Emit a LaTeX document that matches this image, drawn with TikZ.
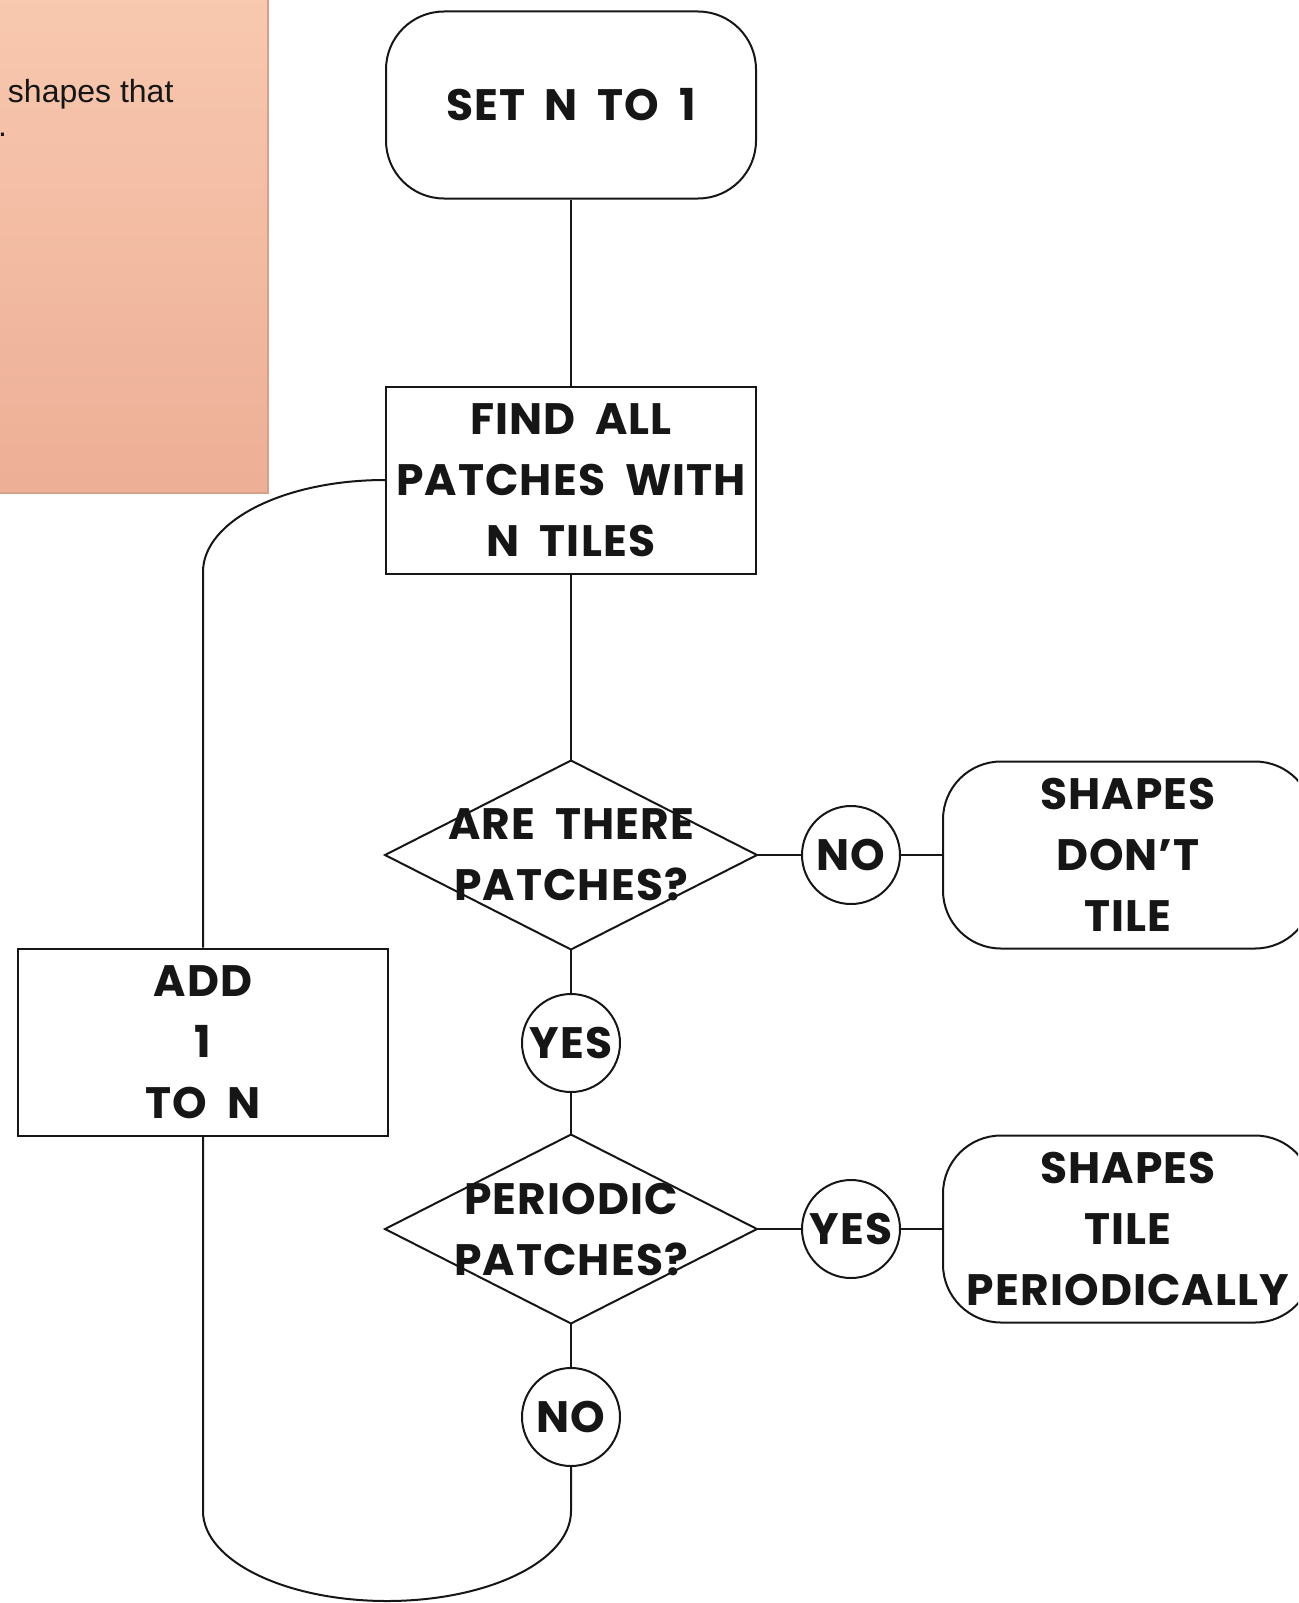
\documentclass[tikz,border=0pt]{standalone}
\usepackage{fontspec}
\setmainfont{Liberation Sans}
\newfontfamily\flowfont{Poppins}[LetterSpace=2.5,WordSpace=1.9]
\definecolor{noteTop}{RGB}{248,201,176}
\definecolor{noteBot}{RGB}{237,175,150}
\definecolor{noteLine}{RGB}{214,160,138}
\definecolor{ink}{RGB}{22,22,22}

\begin{document}
\begin{tikzpicture}[x=1pt,y=1pt,color=ink,line width=2pt,
  flow/.style={font=\flowfont\bfseries\fontsize{44}{61}\selectfont,align=center,inner sep=0pt,minimum width=370pt,minimum height=187pt},
  terminal/.style={flow,draw,rounded corners=58pt},
  process/.style={flow,draw},
  decision/.style={flow},
  answer/.style={circle,draw,font=\flowfont\bfseries\fontsize{44}{61}\selectfont,minimum size=98pt,inner sep=0pt},
  notetext/.style={font=\fontsize{32}{38}\selectfont,inner sep=0pt}]
\useasboundingbox (0,0) rectangle (1298,-1603);
\clip (0,0) rectangle (1298,-1603);
\shadedraw[top color=noteTop,bottom color=noteBot,draw=noteLine,line width=1.5pt] (-20,20) rectangle (268,-493);
\node[notetext,anchor=base west] (noteA) at (7,-102) {shapes that};
\node[notetext,anchor=base east] (noteB) at (8,-136) {.};
\node[terminal] (start) at (571,-105) {SET N TO 1};
\node[process] (find) at (571,-480) {FIND ALL\\PATCHES WITH\\N TILES};
\node[decision] (ask) at (571,-855) {ARE THERE\\PATCHES?};
\node[answer] (noA) at (851,-855) {NO};
\node[terminal] (dontTile) at (1128,-855) {SHAPES\\DON’T\\TILE};
\node[answer] (yesA) at (571,-1043) {YES};
\node[decision] (periodic) at (571,-1229) {PERIODIC\\PATCHES?};
\node[answer] (yesB) at (851,-1229) {YES};
\node[terminal] (tileP) at (1128,-1229) {SHAPES\\TILE\\PERIODICALLY};
\node[answer] (noB) at (571,-1417) {NO};
\node[process] (add) at (203,-1042) {ADD\\1\\TO N};
\foreach \d in {ask,periodic}
  \draw (\d.north) -- (\d.east) -- (\d.south) -- (\d.west) -- cycle;
\coordinate (loopT) at (203,-572);
\coordinate (loopL) at (203,-1511);
\coordinate (loopB) at (387,-1601);
\coordinate (loopR) at (571,-1511);
\draw (start) -- (find);
\draw (find) -- (ask);
\draw (ask) -- (noA) -- (dontTile);
\draw (ask) -- (yesA) -- (periodic);
\draw (periodic) -- (yesB) -- (tileP);
\draw (periodic) -- (noB);
\draw (noB) -- (loopR) .. controls +(0,-50) and +(101,0) .. (loopB) .. controls +(-101,0) and +(0,-50) .. (loopL) -- (add);
\draw (add) -- (loopT) .. controls +(0,51) and +(-101,0) .. (find.west);
\end{tikzpicture}
\end{document}
